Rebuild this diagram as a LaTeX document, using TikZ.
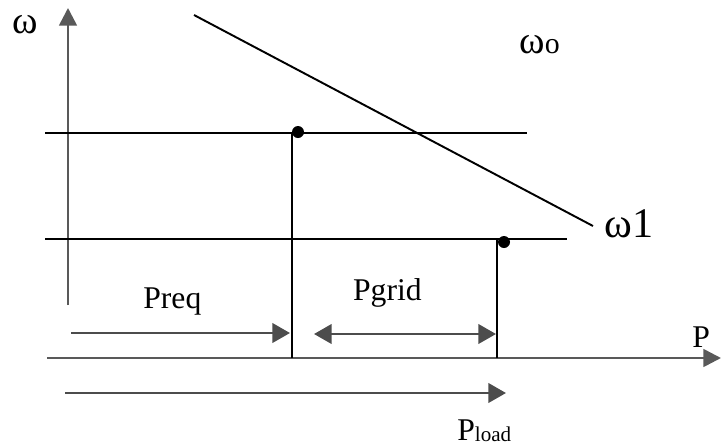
\documentclass[tikz,border=0pt]{standalone}
\usepackage{fontspec}
\setmainfont{Liberation Serif}
\usetikzlibrary{arrows.meta}

\begin{document}
\begin{tikzpicture}[x=0.02cm, y=-0.02cm,
    axis/.style={draw=black!65, line width=1.5pt, -{Triangle[length=10pt,width=10pt]}},
    arr/.style={draw=black!70, line width=1.5pt, -{Triangle[length=10pt,width=11pt]}},
    darr/.style={draw=black!70, line width=1.5pt, {Triangle[length=10pt,width=11pt]}-{Triangle[length=10pt,width=11pt]}},
    lvl/.style={draw=black, line width=1.1pt},
    dot/.style={circle, fill=black, inner sep=0pt, minimum size=0.24cm},
    lbl/.style={font=\fontsize{18}{20}\selectfont, inner sep=0pt}
  ]
  \useasboundingbox (0,0) rectangle (721,447);

  % axes
  \coordinate (wlo) at (68,305);
  \coordinate (whi) at (68,8);
  \coordinate (plo) at (47,358);
  \coordinate (phi) at (721,358);
  \draw[axis] (wlo) -- (whi);
  \draw[axis] (plo) -- (phi);

  % frequency levels and droop line
  \coordinate (up1) at (45,133);  \coordinate (up2) at (527,133);
  \coordinate (lo1) at (45,239);  \coordinate (lo2) at (567,239);
  \coordinate (dr1) at (194,15);  \coordinate (dr2) at (593,226);
  \draw[lvl] (up1) -- (up2);
  \draw[lvl] (lo1) -- (lo2);
  \draw[lvl] (dr1) -- (dr2);

  \coordinate (v1t) at (292,133); \coordinate (v1b) at (292,358);
  \coordinate (v2t) at (497,239); \coordinate (v2b) at (497,358);
  \draw[lvl] (v1t) -- (v1b);
  \draw[lvl] (v2t) -- (v2b);
  \node[dot] (op1) at (298,132) {};
  \node[dot] (op2) at (504,242) {};

  % power arrows
  \coordinate (rq1) at (71,333);  \coordinate (rq2) at (290,333);
  \coordinate (gr1) at (314,334); \coordinate (gr2) at (496,334);
  \coordinate (ld1) at (65,393);  \coordinate (ld2) at (506,393);
  \draw[arr]  (rq1) -- (rq2);
  \draw[darr] (gr1) -- (gr2);
  \draw[arr]  (ld1) -- (ld2);

  % labels
  \node[lbl, font=\fontsize{22}{24}\selectfont, anchor=base west] (wlab) at (12,33) {ω};
  \node[lbl, anchor=base west] (w0lab) at (519,53)
       {{\fontsize{22}{24}\selectfont ω}{\fontsize{17}{18}\selectfont o}};
  \node[lbl, font=\fontsize{24}{26}\selectfont, anchor=base west] (w1lab) at (604,237) {ω1};
  \node[lbl, anchor=base west] (rqlab) at (143,308) {Preq};
  \node[lbl, anchor=base east] (grlab) at (422,300) {Pgrid};
  \node[lbl, font=\fontsize{18}{20}\selectfont, anchor=base west] (plab) at (692,347) {P};
  \node[lbl, anchor=base west] (ldlab) at (457,440)
       {P\raisebox{-1pt}{\fontsize{12}{14}\selectfont load}};
\end{tikzpicture}
\end{document}
